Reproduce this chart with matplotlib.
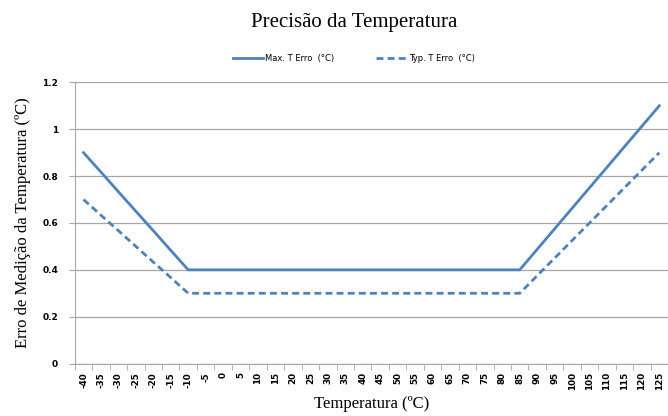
import numpy as np
import matplotlib
matplotlib.use("Agg")
import matplotlib.pyplot as plt

# Data
temps = list(range(-40, 130, 5))
max_err = [0.9, 0.817, 0.733, 0.65, 0.567, 0.483, 0.4,
           0.4, 0.4, 0.4, 0.4, 0.4, 0.4, 0.4, 0.4, 0.4, 0.4, 0.4, 0.4, 0.4,
           0.4, 0.4, 0.4, 0.4, 0.4, 0.4,
           0.4875, 0.575, 0.6625, 0.75, 0.8375, 0.925, 1.0125, 1.1]
typ_err = [0.7, 0.633, 0.567, 0.5, 0.433, 0.367, 0.3,
           0.3, 0.3, 0.3, 0.3, 0.3, 0.3, 0.3, 0.3, 0.3, 0.3, 0.3, 0.3, 0.3,
           0.3, 0.3, 0.3, 0.3, 0.3, 0.3,
           0.375, 0.45, 0.525, 0.6, 0.675, 0.75, 0.825, 0.9]
y_ticks = [0, 0.2, 0.4, 0.6, 0.8, 1.0, 1.2]
y_labels = ["0", "0.2", "0.4", "0.6", "0.8", "1", "1.2"]

blue = "#4f81bd"
serif = ["Liberation Serif", "DejaVu Serif"]

fig = plt.figure(figsize=(6.68, 4.16), dpi=100)
ax = fig.add_axes([0.112, 0.126, 0.888, 0.676])

x = np.arange(len(temps))
ax.plot(x, max_err, color=blue, lw=2, label="Max. T Erro  (°C)")
ax.plot(x, typ_err, color=blue, lw=2, ls=(0, (2.5, 1.5)), label="Typ. T Erro  (°C)")

ax.set_xlim(-0.5, len(temps) - 0.5)
ax.set_ylim(0, 1.2)

# gridlines
ax.set_yticks(y_ticks)
ax.set_yticklabels(y_labels, fontsize=6.5, fontweight="bold")
ax.yaxis.grid(True, color="#a6a6a6", lw=0.9)
ax.set_axisbelow(True)

ax.set_xticks(x)
ax.set_xticklabels([str(t) for t in temps], rotation=90, fontsize=6.3, fontweight="bold")
ax.set_xticks(np.arange(-0.5, len(temps)), minor=True)
ax.tick_params(axis="x", which="major", length=0, pad=6)
ax.tick_params(axis="x", which="minor", length=4, color="#a6a6a6", direction="out")
ax.tick_params(axis="y", length=4, color="#a6a6a6", pad=8)

for s in ["top", "right"]:
    ax.spines[s].set_visible(False)
for s in ["left", "bottom"]:
    ax.spines[s].set_color("#a6a6a6")

ax.set_xlabel("Temperatura (ºC)", fontsize=12, family=serif, labelpad=4)
ax.set_ylabel("Erro de Medição da Temperatura (ºC)", fontsize=12, family=serif, labelpad=8)

fig.text(0.53, 0.945, "Precisão da Temperatura", ha="center", va="center",
         fontsize=15, family=serif)

ax.legend(loc="center", bbox_to_anchor=(0.47, 1.085), ncol=2, frameon=False,
          fontsize=6, handlelength=3.6, columnspacing=5, handletextpad=0.3)

fig.savefig("out.png", dpi=100)
